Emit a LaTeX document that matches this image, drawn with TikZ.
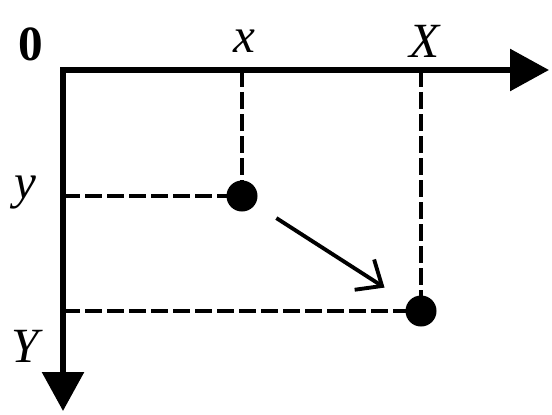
\documentclass[tikz,border=0pt]{standalone}
\usepackage{fontspec}
\setmainfont{Liberation Serif}
\usetikzlibrary{positioning, arrows.meta, calc}

\begin{document}
\begin{tikzpicture}[
  axis/.style={line width=3.4pt, -{Triangle[length=0.78cm, width=0.82cm]}},
  guide/.style={line width=2.6pt, dash pattern=on 0.34cm off 0.1cm},
  pt/.style={circle, fill, inner sep=0pt, minimum size=0.62cm},
  lbl/.style={font=\fontsize{28}{32}\selectfont\itshape}
]
\useasboundingbox (0,0) rectangle (11.04,8.28);

\coordinate (origin) at (1.26,6.88);
\coordinate (xend) at (10.98,6.88);
\coordinate (yend) at (1.26,0.06);

\node (p) [pt] at (4.84,4.36) {};
\node (P) [pt] at (8.42,2.06) {};

\node (zero) at (0.62,7.4) {\fontsize{28}{32}\selectfont\bfseries 0};
\node (xl) [lbl] at (4.88,7.46) {x};
\node (Xl) [lbl] at (8.5,7.46) {X};
\node (yl) [lbl] at (0.5,4.42) {y};
\node (Yl) [lbl] at (0.5,1.36) {Y};

\draw[guide] (p |- origin) -- (p.center);
\draw[guide] (origin |- p) -- (p.center);
\draw[guide] (P |- origin) -- (P.center);
\draw[guide] (origin |- P) -- (P.center);

\draw[axis] (origin) -- (xend);
\draw[axis] ([yshift=1.7pt]origin) -- (yend);

\draw[line width=2.2pt, -{Straight Barb[length=0.42cm, width=0.72cm]}, shorten <=0.5cm, shorten >=0.55cm] (p) -- (P);
\end{tikzpicture}
\end{document}
